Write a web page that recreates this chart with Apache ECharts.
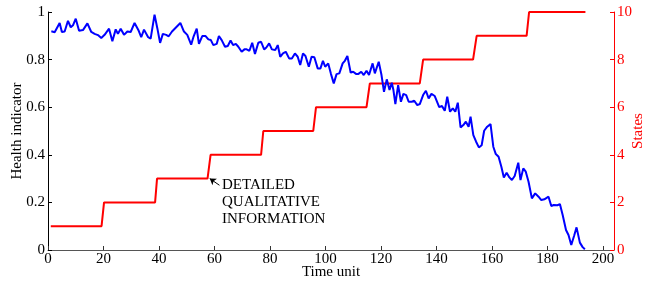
<!DOCTYPE html>
<html lang="en">
  <head>
    <meta charset="UTF-8" />
    <title>Health indicator and states</title>
    <style>
      html, body { margin: 0; padding: 0; background: #fff; }
      #main { width: 645px; height: 284px; }
    </style>
  </head>
  <body>
    <script src="https://cdn.jsdelivr.net/npm/echarts@6.0.0/dist/echarts.min.js"></script>
    <div id="main"></div>
    <script>
      // blue curve: time unit and health indicator value
      const healthT = [
        1.2, 2.4, 4.2, 5, 6, 7.2, 8.2, 9, 10, 11.2, 12.6, 14.2, 15.6, 16.8, 18, 19.2, 20.4, 22, 23.2, 24.4,
        25.2, 26.2, 27.4, 28.6, 29.8, 31.2, 32.7, 33.6, 34.6, 36.1, 37, 38.4, 39.4, 40.4, 41.4, 42.6, 43.5, 44.7, 46.2, 47.7,
        49, 50.2, 51.6, 52.5, 53.6, 54.4, 55.6, 56.8, 57.8, 58.7, 59.6, 60.8, 61.6, 62.6, 63.8, 64.8, 65.8, 66.7, 67.7, 68.6,
        69.8, 70.8, 71.6, 72.6, 73.6, 74.6, 75.8, 76.8, 77.9, 78.7, 79.7, 80.7, 81.9, 82.8, 83.7, 84.7, 85.7, 86.9, 87.9, 89,
        90, 90.9, 91.9, 92.8, 94, 95, 96, 97.2, 98.2, 99.1, 99.9, 101, 102, 103, 104, 105, 106.2, 107, 107.9, 109.1,
        110, 111, 111.9, 112.9, 113.8, 114.8, 115.7, 117, 117.8, 119.2, 120.2, 121.1, 122.1, 123.1, 123.9, 124.5, 125.2, 126.2, 127.2, 128.1,
        129.1, 130, 131.1, 132, 133.1, 134, 135.2, 136.2, 137.2, 138.2, 139.4, 141, 142, 143, 143.9, 144.9, 145.9, 146.8, 147.7, 148.7,
        149.7, 150.6, 151.6, 152.3, 153.3, 154.3, 155.3, 156.3, 157.2, 158.3, 159.5, 160.5, 161.4, 162.4, 163.4, 164.3, 165.3, 166.3, 167.2, 168.2,
        169.5, 170.3, 171.3, 172.2, 173.2, 174.4, 175.6, 176.8, 177.8, 178.9, 180.4, 181.4, 182.3, 183.6, 184.5, 185.5, 186.7, 187.6, 188.6, 189.6,
        190.5, 191.7, 192.7, 193.5
      ]
      const healthV = [
        0.919, 0.915, 0.954, 0.916, 0.918, 0.963, 0.936, 0.944, 0.972, 0.921, 0.924, 0.952, 0.916, 0.908, 0.903, 0.891, 0.904, 0.930, 0.877, 0.927,
        0.908, 0.930, 0.904, 0.918, 0.916, 0.954, 0.921, 0.894, 0.926, 0.894, 0.888, 0.989, 0.932, 0.870, 0.908, 0.904, 0.898, 0.918, 0.936, 0.954,
        0.918, 0.904, 0.863, 0.898, 0.930, 0.866, 0.899, 0.899, 0.885, 0.882, 0.861, 0.866, 0.899, 0.882, 0.854, 0.857, 0.880, 0.861, 0.866, 0.854,
        0.833, 0.843, 0.843, 0.837, 0.871, 0.824, 0.871, 0.875, 0.843, 0.851, 0.868, 0.843, 0.840, 0.861, 0.812, 0.826, 0.833, 0.805, 0.805, 0.826,
        0.812, 0.777, 0.826, 0.815, 0.770, 0.812, 0.810, 0.763, 0.763, 0.795, 0.770, 0.784, 0.739, 0.700, 0.739, 0.742, 0.784, 0.795, 0.815, 0.745,
        0.749, 0.740, 0.740, 0.749, 0.735, 0.753, 0.735, 0.784, 0.742, 0.791, 0.735, 0.665, 0.717, 0.672, 0.703, 0.672, 0.613, 0.693, 0.623, 0.656,
        0.651, 0.623, 0.623, 0.627, 0.609, 0.613, 0.651, 0.669, 0.637, 0.656, 0.647, 0.600, 0.605, 0.585, 0.644, 0.581, 0.595, 0.581, 0.619, 0.515,
        0.525, 0.539, 0.518, 0.560, 0.483, 0.455, 0.431, 0.440, 0.501, 0.518, 0.529, 0.434, 0.403, 0.392, 0.350, 0.305, 0.325, 0.305, 0.294, 0.311,
        0.367, 0.294, 0.343, 0.329, 0.287, 0.217, 0.238, 0.224, 0.210, 0.213, 0.224, 0.185, 0.189, 0.188, 0.193, 0.147, 0.084, 0.063, 0.021, 0.059,
        0.095, 0.031, 0.012, 0.003
      ]

      // red staircase: time unit and state
      const stateT = [1, 19.3, 20.2, 38.6, 39.3, 57.5, 58.6, 76.8, 77.6, 95.6, 96.6, 114.8, 116, 134, 135.2, 153.2, 154.5, 172.5, 173.4, 193.7]
      const stateV = [1, 1, 2, 2, 3, 3, 4, 4, 5, 5, 6, 6, 7, 7, 8, 8, 9, 9, 10, 10]

      const xTicks = [0, 20, 40, 60, 80, 100, 120, 140, 160, 180, 200]
      const noteLines = ['DETAILED', 'QUALITATIVE', 'INFORMATION']

      const font = 'Liberation Serif'
      const chart = echarts.init(document.getElementById('main'))

      chart.setOption({
        animation: false,
        textStyle: { fontFamily: font },
        grid: { left: 48, right: 31, top: 12, bottom: 34, containLabel: false, outerBoundsMode: 'none' },
        xAxis: {
          type: 'value',
          min: 0,
          max: 204,
          name: 'Time unit',
          nameLocation: 'middle',
          nameGap: 15,
          nameMoveOverlap: false,
          nameTextStyle: { fontFamily: font, fontSize: 15, color: '#000' },
          splitLine: { show: false },
          axisLine: { lineStyle: { color: '#555', width: 1 } },
          axisTick: { inside: true, length: 4, customValues: xTicks, lineStyle: { color: '#333' } },
          axisLabel: { customValues: xTicks, margin: 2, fontFamily: font, fontSize: 15, color: '#000' }
        },
        yAxis: [
          {
            type: 'value',
            min: 0,
            max: 1,
            interval: 0.2,
            name: 'Health indicator',
            nameLocation: 'middle',
            nameRotate: 90,
            nameGap: 23,
            nameMoveOverlap: false,
            nameTextStyle: { fontFamily: font, fontSize: 15, color: '#000' },
            splitLine: { show: false },
            axisLine: { show: true, lineStyle: { color: '#000', width: 1 } },
            axisTick: { show: true, inside: true, length: 4, lineStyle: { color: '#000' } },
            axisLabel: { margin: 3, fontFamily: font, fontSize: 15, color: '#000' }
          },
          {
            type: 'value',
            min: 0,
            max: 10,
            interval: 2,
            position: 'right',
            name: 'States',
            nameLocation: 'middle',
            nameRotate: 90,
            nameGap: 17,
            nameMoveOverlap: false,
            nameTextStyle: { fontFamily: font, fontSize: 15, color: '#ff0000' },
            splitLine: { show: false },
            axisLine: { show: true, lineStyle: { color: '#ff0000', width: 1 } },
            axisTick: { show: true, inside: true, length: 4, lineStyle: { color: '#ff0000' } },
            axisLabel: { margin: 3, fontFamily: font, fontSize: 15, color: '#ff0000' }
          }
        ],
        series: [
          {
            type: 'line',
            yAxisIndex: 0,
            data: healthT.map((t, i) => [t, healthV[i]]),
            showSymbol: false,
            symbol: 'none',
            lineStyle: { color: '#0000ff', width: 2 },
            z: 3,
            markLine: {
              silent: true,
              symbol: ['none', 'arrow'],
              symbolSize: 6,
              label: { show: false },
              lineStyle: { color: '#000', width: 1, type: 'solid' },
              data: [[{ coord: [61.8, 0.272] }, { coord: [58.3, 0.3] }]]
            }
          },
          {
            type: 'line',
            yAxisIndex: 1,
            data: stateT.map((t, i) => [t, stateV[i]]),
            showSymbol: false,
            symbol: 'none',
            lineStyle: { color: '#ff0000', width: 2 },
            z: 2
          }
        ]
      })

      // annotation text anchored to data space
      const [nx, ny] = chart.convertToPixel({ xAxisIndex: 0, yAxisIndex: 0 }, [62.7, 0.31])
      chart.setOption({
        graphic: {
          elements: [
            {
              type: 'text',
              x: nx,
              y: ny,
              style: {
                text: noteLines.join('\n'),
                font: '15px ' + font,
                lineHeight: 17,
                fill: '#000',
                textVerticalAlign: 'top'
              }
            }
          ]
        }
      })
    </script>
  </body>
</html>
